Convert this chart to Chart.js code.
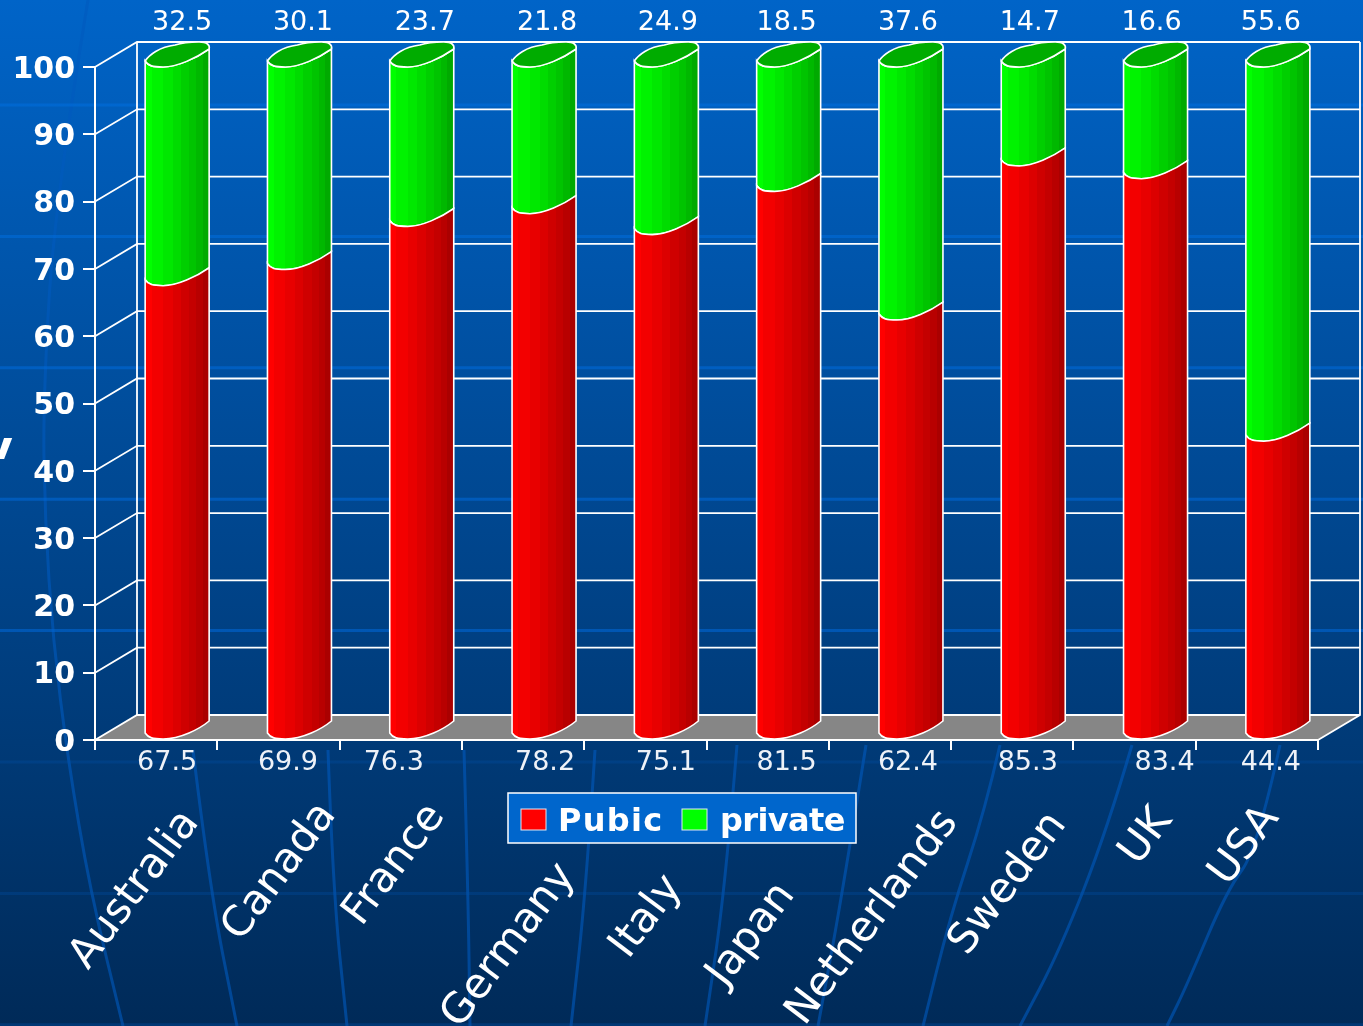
<!DOCTYPE html>
<html>
<head>
<meta charset="utf-8">
<title>Pubic and private share</title>
<style>
html,body{margin:0;padding:0;background:#003a78;overflow:hidden;}
canvas{display:block;}
</style>
<script src="https://cdn.jsdelivr.net/npm/chart.js@4/dist/chart.umd.min.js"></script>
</head>
<body>
<canvas id="grafico" width="1363" height="1026"></canvas>
<script>
const paises = ["Australia","Canada","France","Germany","Italy","Japan","Netherlands","Sweden","UK","USA"];
const publico = [67.5,69.9,76.3,78.2,75.1,81.5,62.4,85.3,83.4,44.4];
const privado = [32.5,30.1,23.7,21.8,24.9,18.5,37.6,14.7,16.6,55.6];
const yTicks = [0,10,20,30,40,50,60,70,80,90,100];

// the hand placed text boxes of the slide, relative to each category centre
const dxArriba = [26,24.5,24,24,22.5,19,18,17.5,17,14];
const dxAbajo = [11,9.5,-7,22,20.5,19,18,15.5,30,14];
const dxPais = [-21,1.5,-6,-14,1.6,-16,-17,-4,12,-12];
const yPais = [890,872,865,946,917,935,918,884,837,846];

const PROF_X = 42;
const PROF_Y = 25;
const FUENTE = '"DejaVu Sans"';

// meridians of the slide background
const meridianos = [
  [[88,0],[55,200],[43,400],[45,520],[53,640],[68,760],[90,890],[123,1026]],
  [[193,750],[210,890],[237,1026]],
  [[328,750],[333,890],[347,1026]],
  [[464,750],[468,890],[470,1026]],
  [[595,750],[586,890],[571,1026]],
  [[737,745],[725,890],[705,1026]],
  [[866,745],[843,890],[818,1026]],
  [[1000,745],[985,810],[950,917],[923,1026]],
  [[1132,745],[1107,830],[1060,950],[1020,1026]],
  [[1280,745],[1257,850],[1227,890],[1187,985],[1167,1026]]
];

// cylinder shading, stop position and brightness
const bandas = [[.1,255],[.28,243],[.43,232],[.56,220],[.69,207],[.8,196],[.9,184],[1,170]];

function color(base,v){
  return base === "r" ? `rgb(${v},0,0)` : `rgb(0,${v},0)`;
}

function sombreado(ctx,izq,der,base){
  const g = ctx.createLinearGradient(izq,0,der,0);
  let desde = 0;
  bandas.forEach(b=>{
    g.addColorStop(desde,color(base,b[1]));
    g.addColorStop(b[0],color(base,b[1]));
    desde = b[0];
  });
  return g;
}

// lower front edge of the skewed ellipse, left to right
function bordeFrente(ctx,L,R,y){
  const w = R-L;
  ctx.bezierCurveTo(L+.05*w,y-1,L+.12*w,y,L+.28*w,y);
  ctx.bezierCurveTo(L+.5*w,y,L+.8*w,y-9,R,y-18);
}

function dibujarCilindro(ctx,el,base,conTapa){
  const L = el.x+PROF_X/2-el.width/2;
  const R = L+el.width;
  const arriba = el.y;
  const abajo = el.base;

  ctx.save();
  ctx.beginPath();
  ctx.moveTo(L,arriba-6);
  bordeFrente(ctx,L,R,arriba);
  ctx.lineTo(R,abajo-18);
  ctx.bezierCurveTo(R-.15*el.width,abajo-10,R-.45*el.width,abajo,L+.28*el.width,abajo);
  ctx.bezierCurveTo(L+.12*el.width,abajo,L+.05*el.width,abajo-1,L,abajo-6);
  ctx.closePath();
  ctx.fillStyle = sombreado(ctx,L,R,base);
  ctx.fill();
  ctx.strokeStyle = "#fff";
  ctx.lineWidth = 1.6;
  ctx.stroke();

  if(conTapa){
    ctx.beginPath();
    ctx.moveTo(L,arriba-6);
    bordeFrente(ctx,L,R,arriba);
    ctx.bezierCurveTo(R+1,arriba-22,R-2,arriba-25,R-10,arriba-25);
    ctx.bezierCurveTo(R-22,arriba-25,R-28,arriba-24,R-34,arriba-22);
    ctx.bezierCurveTo(L+14,arriba-20,L+4,arriba-12,L,arriba-6);
    ctx.closePath();
    ctx.fillStyle = "#00ac00";
    ctx.fill();
    ctx.stroke();
  }
  ctx.restore();
}

function dibujarFondo(chart){
  const ctx = chart.ctx;
  const W = chart.width;
  const H = chart.height;

  const g = ctx.createLinearGradient(0,0,0,H);
  g.addColorStop(0,"#0064c8");
  g.addColorStop(1,"#002a58");
  ctx.fillStyle = g;
  ctx.fillRect(0,0,W,H);

  ctx.lineWidth = 3;
  ctx.strokeStyle = "rgba(0,90,190,.6)";
  meridianos.forEach(p=>{
    ctx.beginPath();
    ctx.moveTo(p[0][0],p[0][1]);
    for(let i=1;i<p.length-1;i++){
      const mx = (p[i][0]+p[i+1][0])/2;
      const my = (p[i][1]+p[i+1][1])/2;
      ctx.quadraticCurveTo(p[i][0],p[i][1],mx,my);
    }
    ctx.lineTo(p[p.length-1][0],p[p.length-1][1]);
    ctx.stroke();
  });

  // horizontal bands, they fade out to the bottom
  const gl = ctx.createLinearGradient(0,0,0,H);
  gl.addColorStop(0,"rgba(0,110,220,.6)");
  gl.addColorStop(.65,"rgba(0,100,210,.6)");
  gl.addColorStop(.75,"rgba(0,80,170,.25)");
  gl.addColorStop(1,"rgba(0,80,170,.35)");
  ctx.strokeStyle = gl;
  ctx.lineWidth = 3;
  for(let y=105;y<H;y+=131.4){
    ctx.beginPath();
    ctx.moveTo(0,y);
    ctx.lineTo(W,y);
    ctx.stroke();
  }

  // what is left of the cut off axis title
  ctx.save();
  ctx.beginPath();
  ctx.rect(0,430,20,29);
  ctx.clip();
  ctx.fillStyle = "#fff";
  ctx.font = "bold 46px "+FUENTE;
  ctx.textAlign = "center";
  ctx.textBaseline = "alphabetic";
  ctx.fillText("y",-2,463);
  ctx.restore();
}

function dibujarParedes(chart){
  const ctx = chart.ctx;
  const x = chart.scales.x;
  const y = chart.scales.y;
  const cero = y.getPixelForValue(0);

  ctx.fillStyle = "#868686";
  ctx.beginPath();
  ctx.moveTo(x.left,cero);
  ctx.lineTo(x.left+PROF_X,cero-PROF_Y);
  ctx.lineTo(x.right+PROF_X,cero-PROF_Y);
  ctx.lineTo(x.right,cero);
  ctx.closePath();
  ctx.fill();

  ctx.strokeStyle = "#fff";
  ctx.lineWidth = 1.8;
  yTicks.forEach(v=>{
    const py = y.getPixelForValue(v);
    ctx.beginPath();
    ctx.moveTo(x.left,py);
    ctx.lineTo(x.left+PROF_X,py-PROF_Y);
    ctx.lineTo(x.right+PROF_X,py-PROF_Y);
    ctx.stroke();
  });

  ctx.beginPath();
  ctx.moveTo(x.left+PROF_X,y.getPixelForValue(100)-PROF_Y);
  ctx.lineTo(x.left+PROF_X,cero-PROF_Y);
  ctx.moveTo(x.right+PROF_X,y.getPixelForValue(100)-PROF_Y);
  ctx.lineTo(x.right+PROF_X,cero-PROF_Y);
  ctx.lineTo(x.right,cero);
  ctx.stroke();
}

function dibujarTextos(chart){
  const ctx = chart.ctx;
  const x = chart.scales.x;
  const y = chart.scales.y;

  ctx.save();
  ctx.fillStyle = "#fff";

  // y tick labels, the native ones sit 3px too high
  ctx.font = "bold 30px "+FUENTE;
  ctx.textAlign = "right";
  ctx.textBaseline = "middle";
  y.ticks.forEach((t,i)=>{
    ctx.fillText(t.value,75,y.getPixelForTick(i)+3);
  });

  ctx.font = "27px "+FUENTE;
  ctx.textAlign = "center";
  paises.forEach((p,i)=>{
    const cx = x.getPixelForValue(i);
    ctx.fillText(privado[i].toFixed(1),cx+dxArriba[i],23);
    ctx.fillStyle = "#eef2f8";
    ctx.fillText(publico[i].toFixed(1),cx+dxAbajo[i],763);
    ctx.fillStyle = "#fff";
  });

  ctx.font = "42px "+FUENTE;
  paises.forEach((p,i)=>{
    ctx.save();
    ctx.translate(x.getPixelForValue(i)+dxPais[i],yPais[i]);
    ctx.rotate(-53*Math.PI/180);
    ctx.fillText(p,0,0);
    ctx.restore();
  });
  ctx.restore();
}

function dibujarLeyenda(chart){
  const ctx = chart.ctx;
  ctx.save();
  ctx.fillStyle = "#0066cc";
  ctx.fillRect(508,793,348,50);
  ctx.strokeStyle = "#fff";
  ctx.lineWidth = 1.5;
  ctx.strokeRect(508,793,348,50);

  const cajas = [521,682];
  const textos = [558,720];
  const espacios = ["1.3px","-0.6px"];
  ctx.font = "bold 32px "+FUENTE;
  ctx.textAlign = "left";
  ctx.textBaseline = "alphabetic";
  chart.data.datasets.forEach((d,i)=>{
    ctx.fillStyle = d.backgroundColor;
    ctx.fillRect(cajas[i],809,25,21);
    ctx.strokeStyle = "#dfe8f5";
    ctx.lineWidth = 1;
    ctx.strokeRect(cajas[i],809,25,21);
    ctx.fillStyle = "#fff";
    ctx.letterSpacing = espacios[i];
    ctx.fillText(d.label,textos[i],831);
  });
  ctx.restore();
}

const grafico3d = {
  id:"grafico3d",
  beforeDraw(chart){
    dibujarFondo(chart);
    dibujarParedes(chart);
  },
  beforeDatasetDraw(chart,args){
    const base = args.index === 0 ? "r" : "g";
    args.meta.data.forEach(el=>{
      dibujarCilindro(chart.ctx,el,base,args.index === 1);
    });
    return false;
  },
  afterDraw(chart){
    dibujarTextos(chart);
    dibujarLeyenda(chart);
  }
};

new Chart(document.getElementById("grafico"),{
  type:"bar",
  data:{
    labels:paises,
    datasets:[
      {label:"Pubic",data:publico,backgroundColor:"#ff0000"},
      {label:"private",data:privado,backgroundColor:"#00ff00"}
    ]
  },
  options:{
    responsive:false,
    animation:false,
    categoryPercentage:1,
    barPercentage:64/122.3,
    layout:{padding:{top:67,right:45,left:0,bottom:0}},
    plugins:{legend:{display:false},tooltip:{enabled:false}},
    scales:{
      x:{
        stacked:true,
        afterFit:s=>{s.height=286;},
        border:{color:"#fff",width:2},
        grid:{drawOnChartArea:false,color:"#fff",lineWidth:2,tickLength:10},
        ticks:{display:false}
      },
      y:{
        stacked:true,
        min:0,
        max:100,
        afterFit:s=>{s.width=95;},
        border:{color:"#fff",width:2},
        grid:{drawOnChartArea:false,color:"#fff",lineWidth:2,tickLength:12},
        ticks:{stepSize:10,display:false}
      }
    }
  },
  plugins:[grafico3d]
});
</script>
</body>
</html>
